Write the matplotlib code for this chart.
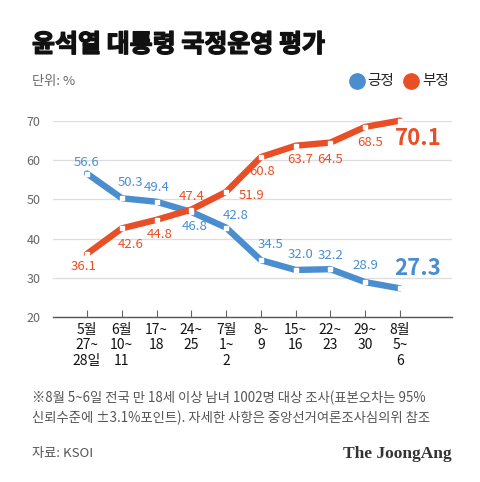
import matplotlib.pyplot as plt
import matplotlib.patheffects as pe

plt.rcParams['font.family'] = ['Noto Sans CJK KR', 'DejaVu Sans']

dates = ["5월\n27~\n28일", "6월\n10~\n11", "17~\n18", "24~\n25", "7월\n1~\n2",
         "8~\n9", "15~\n16", "22~\n23", "29~\n30", "8월\n5~\n6"]
positive = [56.6, 50.3, 49.4, 46.8, 42.8, 34.5, 32.0, 32.2, 28.9, 27.3]
negative = [36.1, 42.6, 44.8, 47.4, 51.9, 60.8, 63.7, 64.5, 68.5, 70.1]

BLUE = "#4a8ed0"
ORANGE = "#e84f26"

# label offsets in pixels (dx, dy), last one is the big label
pos_off = [(0, 11), (9, 16), (0, 14), (3, -15), (10, 12), (10, 16), (5, 15), (0, 14), (0, 17), (18, 20)]
neg_off = [(-3, -13), (9, -16), (3, -15), (0, 13), (25, -4), (1, -14), (5, -14), (0, -17), (5, -16), (18, -18)]

fig = plt.figure(figsize=(4.8, 4.82), dpi=100)
ax = fig.add_axes([53 / 480, 1 - 317 / 482, (452 - 53) / 480, 196 / 482])

x = list(range(len(dates)))
for vals, color, offs, z in [(positive, BLUE, pos_off, 3), (negative, ORANGE, neg_off, 4)]:
    ax.plot(x, vals, color=color, lw=4.6, solid_joinstyle="round", solid_capstyle="round",
            zorder=z, clip_on=False)
    ax.plot(x, vals, ls="none", marker="s", ms=2.6, mfc="white", mec="white", zorder=z,
            clip_on=False)
    for i, v in enumerate(vals):
        dx, dy = offs[i]
        last = i == len(vals) - 1
        ax.annotate(f"{v:.1f}", (i, v), xytext=(dx, dy), textcoords="offset pixels",
                    ha="center", va="center", color=color,
                    fontsize=16 if last else 9.5, fontweight="bold" if last else "normal",
                    annotation_clip=False, zorder=5)

ax.set_xlim(-(87 - 53) / 34.78, 9 + (452 - 400) / 34.78)
ax.set_ylim(20, 70)
ax.set_yticks([20, 30, 40, 50, 60, 70])
ax.set_xticks(x)
ax.set_xticklabels(dates, fontsize=10, color="#111111", linespacing=1.15)
ax.tick_params(axis="x", direction="in", length=5, color="#666666", pad=4)
ax.tick_params(axis="y", length=0, labelsize=9, labelcolor="#666666", pad=9)
ax.grid(axis="y", color="#dddddd", lw=0.9)
ax.set_axisbelow(True)
for s in ["top", "right", "left"]:
    ax.spines[s].set_visible(False)
ax.spines["bottom"].set_color("#555555")
ax.spines["bottom"].set_linewidth(1.0)

# title and header (stroke to mimic the heavy headline face)
fig.text(32 / 480, 1 - 45 / 482, "윤석열 대통령 국정운영 평가", fontsize=18, fontweight="bold",
         color="#111111", va="center", ha="left",
         path_effects=[pe.withStroke(linewidth=1.0, foreground="#111111")])
fig.text(32 / 480, 1 - 81 / 482, "단위: %", fontsize=9.5, color="#666666", va="center")
fig.text(367 / 480, 1 - 81 / 482, "긍정", fontsize=10.5, color="#222222", va="center")
fig.text(422 / 480, 1 - 81 / 482, "부정", fontsize=10.5, color="#222222", va="center")
fig.add_artist(plt.Line2D([357 / 480], [1 - 81 / 482], marker="o", ms=11, color=BLUE,
                          transform=fig.transFigure))
fig.add_artist(plt.Line2D([411 / 480], [1 - 81 / 482], marker="o", ms=11, color=ORANGE,
                          transform=fig.transFigure))

# footnote
fig.text(32 / 480, 1 - 398 / 482,
         "※8월 5~6일 전국 만 18세 이상 남녀 1002명 대상 조사(표본오차는 95%",
         fontsize=9.6, color="#555555", va="center")
fig.text(32 / 480, 1 - 418 / 482,
         "신뢰수준에 ±3.1%포인트). 자세한 사항은 중앙선거여론조사심의위 참조",
         fontsize=9.6, color="#555555", va="center")
fig.text(32 / 480, 1 - 454 / 482, "자료: KSOI", fontsize=9.5, color="#555555", va="center")
fig.text(452 / 480, 1 - 454 / 482, "The JoongAng", fontsize=12.5, fontweight="bold",
         family="Liberation Serif", color="#333333", va="center", ha="right")

fig.savefig("out.png", dpi=100)
